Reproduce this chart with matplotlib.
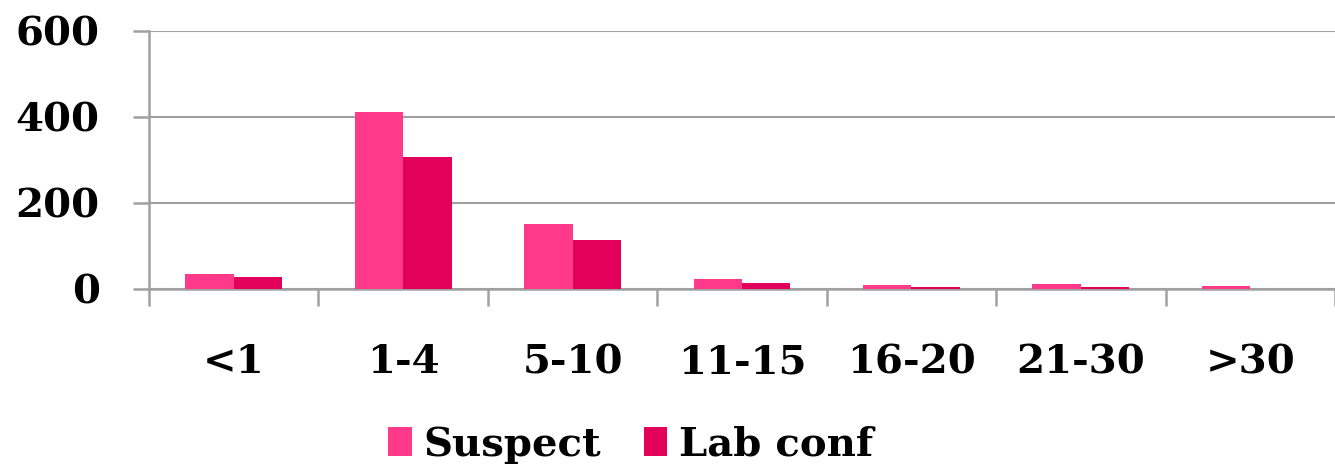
import matplotlib
matplotlib.use("Agg")
import matplotlib.pyplot as plt
import numpy as np

# age groups and case counts
age_groups = ['<1', '1-4', '5-10', '11-15', '16-20', '21-30', '>30']
suspect = [34, 412, 151, 23, 10, 11, 7]
lab_conf = [27, 307, 114, 15, 4, 5, 0]

c_suspect = '#FF3A8A'
c_lab = '#E2005A'
grey = '#A0A0A0'

plt.rcParams['font.family'] = 'DejaVu Serif'
plt.rcParams['font.weight'] = 'bold'

fig = plt.figure(figsize=(13.35, 4.69), dpi=100)
ax = fig.add_axes([149/1335, 1 - 289/469, (1335 - 149)/1335, (289 - 31)/469])

x = np.arange(len(age_groups))
w = 0.286
ax.bar(x - w/2, suspect, w, color=c_suspect, label='Suspect', zorder=3)
ax.bar(x + w/2, lab_conf, w, color=c_lab, label='Lab conf', zorder=3)

ax.set_xlim(-0.5, len(age_groups) - 0.5)
ax.set_ylim(0, 600)
ax.set_yticks([0, 200, 400, 600])
ax.yaxis.grid(True, color=grey, linewidth=1.5, zorder=0)

for s in ['top', 'right']:
    ax.spines[s].set_visible(False)
for s in ['left', 'bottom']:
    ax.spines[s].set_color(grey)
    ax.spines[s].set_linewidth(1.8)

# category boundary ticks on x
ax.set_xticks(np.arange(len(age_groups) + 1) - 0.5, minor=True)
ax.set_xticks(x)
ax.set_xticklabels(age_groups)
ax.tick_params(axis='x', which='major', length=0, pad=39, labelsize=29)
ax.tick_params(axis='x', which='minor', length=12, width=1.8, color=grey)
ax.tick_params(axis='y', length=11.5, width=1.8, color=grey, pad=24, labelsize=29)

fig.legend(loc='lower center', bbox_to_anchor=(0.4725, -0.066), ncol=2, frameon=False,
           fontsize=29, handlelength=0.58, handleheight=0.72, handletextpad=0.3,
           columnspacing=1.05)

fig.savefig('out.png', dpi=100)
